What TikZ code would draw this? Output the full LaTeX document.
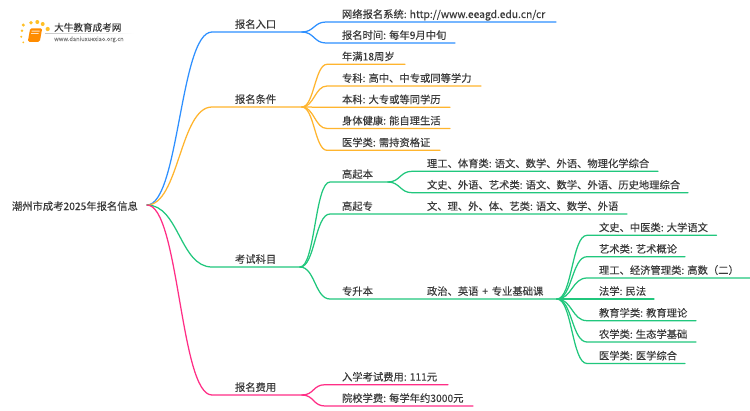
\documentclass[tikz,border=0pt]{standalone}
\usepackage{fontspec}
\setmainfont[FakeBold=0.07]{Noto Sans CJK SC}
\usetikzlibrary{calc}
\definecolor{cblue}{HTML}{2E90FF}
\definecolor{corange}{HTML}{FFB52E}
\definecolor{cgreen}{HTML}{21C77D}
\definecolor{cpink}{HTML}{FF2E86}
\definecolor{ctext}{HTML}{3A3A3A}
\tikzset{
  lab/.style={anchor=base west,inner sep=0pt,outer sep=0pt,text=ctext,font=\fontsize{10.3bp}{12bp}\selectfont},
  branch/.style={line width=1.25bp,line cap=round,line join=round},
  dot/.style={circle,inner sep=0pt,fill=#1,draw=none},
}
% #1 colour, #2 hub, #3 curve end, #4 line end, #5 control offset
\newcommand{\conn}[5]{\draw[branch,#1] (#2) .. controls ($(#2)+(#5,0)$) and ($(#3)-(#5,0)$) .. (#3) -- (#4);}
% #1 name, #2 x, #3 underline y, #4 text
\newcommand{\lab}[4]{\node[lab] (#1) at (#2,#3-4) {#4};}
\begin{document}
\begin{tikzpicture}[x=1bp,y=-1bp]
\useasboundingbox[fill=white] (0,0) rectangle (750,410);
% logo
\foreach \n/\a/\b/\r in {d1/23.3/25/1.7,d2/31/22.7/1.9,d3/37.3/22/2,d4/42.7/24/2,d5/47.7/29/2.1,d6/22/30.7/1.3,d7/21.3/36.7/1.1,d8/23.3/42.3/1}
  \node[dot=corange!85!yellow,minimum size=2*\r bp] (\n) at (\a,\b) {};
\node[inner sep=0pt,minimum width=12bp,minimum height=13.5bp,fill=orange!90!yellow,rounded corners=1.5bp,xslant=0.18] (book) at (35,35) {};
\fill[white,opacity=.75] (31.5,30.5) rectangle (39.5,31.5) (31,33) rectangle (38.5,33.8);
\node[inner sep=0pt,anchor=base west,text=ctext,font=\fontsize{9.6bp}{11bp}\selectfont] (brand) at (54,31) {大牛教育成考网};
\node[inner sep=0pt,anchor=base west,text=gray,font=\fontsize{5.75bp}{7bp}\selectfont] (site) at (54,41) {www.daniuxuexiao.org.cn};
\shade[left color=gray!45,right color=white] (45,33) rectangle (134,33.6);
% anchors
\coordinate (root) at (147,205);
\node[lab] (troot) at (12,210) {潮州市成考2025年报名信息};
\foreach \n/\x/\y in {a/212/32,ae/302/32,b/212/107,be/302/107,c/212/267,ce/300/267,d/212/395,de/302/395,
  gb/330/182,gbe/388/182,gz/330/214,gze/627/214,zs/330/299,zse/557/299}
  \coordinate (\n) at (\x,\y);
% level 1
\conn{cblue}{root}{a}{ae}{32}
\conn{corange}{root}{b}{be}{32}
\conn{cgreen}{root}{c}{ce}{32}
\conn{cpink}{root}{d}{de}{32}
\lab{ta}{235}{32}{报名入口}
\lab{tb}{235}{107}{报名条件}
\lab{tc}{235}{267}{考试科目}
\lab{td}{235}{395}{报名费用}
% blue
\foreach \n/\y/\e/\t in {a1/22/556/{网络报名系统: http://www.eeagd.edu.cn/cr},a2/43/455/{报名时间: 每年9月中旬}}{
  \coordinate (\n s) at (326,\y); \coordinate (\n e) at (\e,\y);
  \conn{cblue}{ae}{\n s}{\n e}{12}
  \lab{\n}{342}{\y}{\t}
}
% orange
\foreach \n/\y/\e/\t in {b1/64.3/405/{年满18周岁},b2/86/481/{专科: 高中、中专或同等学力},b3/107.3/450/{本科: 大专或等同学历},b4/128.5/450/{身体健康: 能自理生活},b5/150.3/440/{医学类: 需持资格证}}{
  \coordinate (\n s) at (327,\y); \coordinate (\n e) at (\e,\y);
  \conn{corange}{be}{\n s}{\n e}{12}
  \lab{\n}{342}{\y}{\t}
}
% green
\conn{cgreen}{ce}{gb}{gbe}{15}
\conn{cgreen}{ce}{gz}{gze}{15}
\conn{cgreen}{ce}{zs}{zse}{15}
\lab{tgb}{342}{182}{高起本}
\lab{tgz}{342}{214}{高起专}
\lab{tzs}{342}{299}{专升本}
\lab{tgz1}{427}{214}{文、理、外、体、艺类: 语文、数学、外语}
\lab{tzs1}{427}{299}{政治、英语\hspace{1.5bp} + \hspace{1.5bp}专业基础课}
\foreach \n/\y/\e/\t in {g1/171.3/658/{理工、体育类: 语文、数学、外语、物理化学综合},g2/192.7/688/{文史、外语、艺术类: 语文、数学、外语、历史地理综合}}{
  \coordinate (\n s) at (412,\y); \coordinate (\n e) at (\e,\y);
  \conn{cgreen}{gbe}{\n s}{\n e}{12}
  \lab{\n}{427}{\y}{\t}
}
\foreach \n/\y/\e/\t in {z1/235.3/716.5/{文史、中医类: 大学语文},z2/256.7/685/{艺术类: 艺术概论},z3/278/750/{理工、经济管理类: 高数（二）},z4/299/654/{法学: 民法},z5/320.7/696/{教育学类: 教育理论},z6/342/696/{农学类: 生态学基础},z7/363.5/685/{医学类: 医学综合}}{
  \coordinate (\n s) at (587,\y); \coordinate (\n e) at (\e,\y);
  \conn{cgreen}{zse}{\n s}{\n e}{15}
  \lab{\n}{599}{\y}{\t}
}
% pink
\foreach \n/\y/\e/\t in {d1x/384.7/448/{入学考试费用: 111元},d2x/406/473/{院校学费: 每学年约3000元}}{
  \coordinate (\n s) at (325,\y); \coordinate (\n e) at (\e,\y);
  \conn{cpink}{de}{\n s}{\n e}{12}
  \lab{\n}{342}{\y}{\t}
}
\end{tikzpicture}
\end{document}
